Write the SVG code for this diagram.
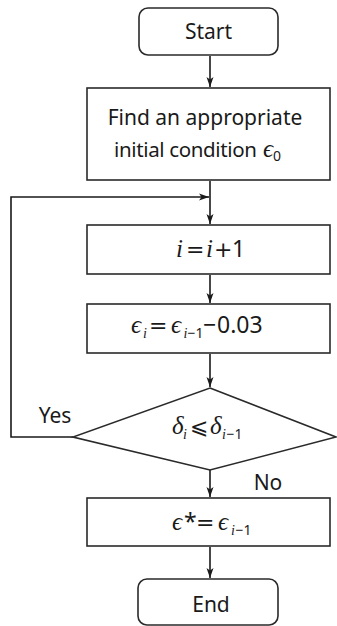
<svg xmlns="http://www.w3.org/2000/svg" width="337" height="626" viewBox="0 0 337 626">
<defs>
<marker id="ah" markerWidth="10" markerHeight="8" refX="10" refY="4" orient="auto" markerUnits="userSpaceOnUse">
<path d="M0,0.5 L10,4 L0,7.5 L2.5,4 Z" fill="#1a1a1a"/>
</marker>
</defs>
<style>
.box{fill:#fff;stroke:#2a2a2a;stroke-width:1.6}
.ln{fill:none;stroke:#1a1a1a;stroke-width:1.6}
.t{font-family:"Noto Sans","Open Sans",sans-serif;font-size:21px;fill:#1a1a1a;text-anchor:middle}
.m{font-family:"Noto Sans","Open Sans",sans-serif;font-size:23px;fill:#1a1a1a}
.v{font-family:"Liberation Serif","DejaVu Serif",serif;font-style:italic;font-size:25px}
.s{font-size:14px}
.eq{font-family:"DejaVu Sans",sans-serif;font-size:22px}
</style>
<rect width="337" height="626" fill="#fff"/>
<g id="connectors">
<line class="ln" x1="210" y1="56" x2="210" y2="87" marker-end="url(#ah)"/>
<line class="ln" x1="210" y1="181" x2="210" y2="224" marker-end="url(#ah)"/>
<polyline class="ln" points="73,437 11,437 11,197 209,197" marker-end="url(#ah)"/>
<line class="ln" x1="210" y1="275" x2="210" y2="303" marker-end="url(#ah)"/>
<line class="ln" x1="210" y1="354" x2="210" y2="387" marker-end="url(#ah)"/>
<line class="ln" x1="210" y1="470" x2="210" y2="497" marker-end="url(#ah)"/>
<line class="ln" x1="210" y1="547" x2="210" y2="578" marker-end="url(#ah)"/>
<text class="t" x="55" y="423">Yes</text>
<text class="t" x="268" y="490">No</text>
</g>
<g id="start">
<rect class="box" x="139" y="8" width="139" height="47" rx="9"/>
<text class="t" x="208.5" y="39">Start</text>
</g>
<g id="init">
<rect class="box" x="87" y="88" width="243" height="92"/>
<text class="t" x="205" y="125">Find an appropriate</text>
<text class="t" x="114" y="157" style="text-anchor:start;font-size:20.5px" textLength="143" lengthAdjust="spacing">initial condition</text>
<text class="m" x="263" y="157"><tspan class="v">ϵ</tspan><tspan class="s" dy="4">0</tspan></text>
</g>
<g id="inc">
<rect class="box" x="87" y="225" width="243" height="49"/>
<text class="m" y="257"><tspan class="v" x="176">i</tspan><tspan class="eq" x="186">=</tspan><tspan class="v" x="206">i</tspan><tspan class="eq" x="214">+</tspan><tspan x="232">1</tspan></text>
</g>
<g id="update">
<rect class="box" x="87" y="304" width="243" height="49"/>
<text class="m" y="333"><tspan class="v" x="131">ϵ</tspan><tspan class="v s" x="143" dy="5">i</tspan><tspan class="eq" x="149" dy="-5">=</tspan><tspan class="v" x="171">ϵ</tspan><tspan class="v s" x="183.5" dy="5">i</tspan><tspan class="s" x="187.5">−1</tspan></text>
<text class="m" y="333"><tspan x="203">−</tspan><tspan x="217">0.03</tspan></text>
</g>
<g id="decision">
<polygon class="box" points="210,388 336,437 210,470 73,437"/>
<text class="m" y="434"><tspan class="v" x="172">δ</tspan><tspan class="v s" x="183" dy="5">i</tspan><tspan class="eq" x="190" dy="-5">⩽</tspan><tspan class="v" x="210">δ</tspan><tspan class="v s" x="222" dy="5">i</tspan><tspan class="s" x="226.5">−1</tspan></text>
</g>
<g id="result">
<rect class="box" x="87" y="498" width="243" height="48"/>
<text class="m" y="530"><tspan class="v" x="172">ϵ</tspan><tspan x="184">*</tspan><tspan class="eq" x="196">=</tspan><tspan class="v" x="218">ϵ</tspan><tspan class="v s" x="231" dy="5">i</tspan><tspan class="s" x="235.5">−1</tspan></text>
</g>
<g id="end">
<rect class="box" x="138" y="579" width="140" height="46" rx="9"/>
<text class="t" x="211" y="612">End</text>
</g>
</svg>
